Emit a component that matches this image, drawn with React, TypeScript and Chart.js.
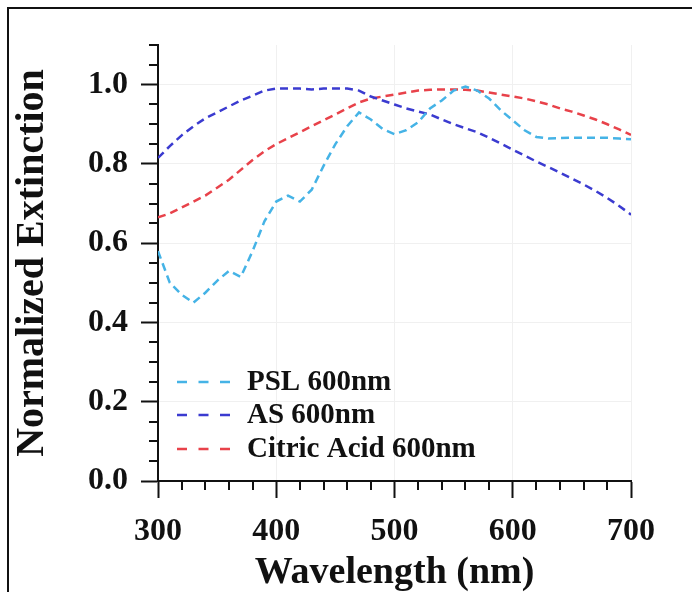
import React, { useEffect, useRef } from 'react';
import { Chart, registerables } from 'chart.js';

Chart.register(...registerables);

const wavelengths = [300, 310, 320, 330, 340, 350, 360, 370, 380, 390, 400, 410, 420, 430, 440, 450, 460, 470, 480, 490, 500, 510, 520, 530, 540, 550, 560, 570, 580, 590, 600, 610, 620, 630, 640, 650, 660, 670, 680, 690, 700];

const pslValues = [0.58, 0.5, 0.47, 0.45, 0.475, 0.505, 0.53, 0.515, 0.58, 0.655, 0.705, 0.72, 0.705, 0.735, 0.795, 0.85, 0.895, 0.93, 0.912, 0.888, 0.875, 0.885, 0.905, 0.94, 0.96, 0.985, 0.995, 0.985, 0.965, 0.935, 0.91, 0.885, 0.868, 0.864, 0.865, 0.866, 0.866, 0.866, 0.866, 0.864, 0.862];

const asValues = [0.815, 0.845, 0.872, 0.895, 0.915, 0.93, 0.945, 0.96, 0.972, 0.985, 0.99, 0.99, 0.99, 0.988, 0.99, 0.99, 0.99, 0.985, 0.97, 0.96, 0.95, 0.94, 0.932, 0.925, 0.912, 0.9, 0.89, 0.88, 0.866, 0.851, 0.836, 0.821, 0.806, 0.792, 0.778, 0.763, 0.748, 0.732, 0.714, 0.694, 0.672];

const citricValues = [0.665, 0.675, 0.69, 0.705, 0.72, 0.74, 0.76, 0.785, 0.81, 0.832, 0.85, 0.865, 0.88, 0.895, 0.91, 0.925, 0.94, 0.955, 0.965, 0.97, 0.975, 0.98, 0.985, 0.987, 0.988, 0.988, 0.987, 0.985, 0.98, 0.975, 0.97, 0.965, 0.958, 0.95, 0.94, 0.932, 0.922, 0.912, 0.9, 0.887, 0.873];

const seriesLabels = ['PSL 600nm', 'AS 600nm', 'Citric Acid 600nm'];
const seriesColors = ['#45b3e6', '#3b3bd0', '#e8424a'];

const xTickLabels = [300, 400, 500, 600, 700];
const yTickLabels = [0.0, 0.2, 0.4, 0.6, 0.8, 1.0];

const FONT = "'Liberation Serif', 'Times New Roman', serif";
const INK = '#111111';

const isXMajor = (v: number) => xTickLabels.some((t) => Math.abs(t - v) < 1e-6);
const isYMajor = (v: number) => yTickLabels.some((t) => Math.abs(t - v) < 1e-6);

const decorPlugin = {
  id: 'decor',
  beforeDraw(chart: any) {
    const { ctx, width, height } = chart;
    ctx.save();
    ctx.fillStyle = '#ffffff';
    ctx.fillRect(0, 0, width, height);
    ctx.strokeStyle = INK;
    ctx.lineWidth = 2;
    ctx.beginPath();
    ctx.moveTo(8, height);
    ctx.lineTo(8, 8);
    ctx.lineTo(width, 8);
    ctx.stroke();
    ctx.restore();
  },
  afterDraw(chart: any) {
    const { ctx, chartArea } = chart;
    const xs = chart.scales.x;
    const ys = chart.scales.y;
    ctx.save();
    ctx.strokeStyle = INK;
    ctx.lineWidth = 2;
    ctx.setLineDash([]);
    xs.ticks.forEach((t: any) => {
      if (!isXMajor(t.value)) {
        const px = Math.round(xs.getPixelForValue(t.value));
        ctx.beginPath();
        ctx.moveTo(px, chartArea.bottom);
        ctx.lineTo(px, chartArea.bottom + 9);
        ctx.stroke();
      }
    });
    ys.ticks.forEach((t: any) => {
      if (!isYMajor(t.value)) {
        const py = Math.round(ys.getPixelForValue(t.value));
        ctx.beginPath();
        ctx.moveTo(chartArea.left - 9, py);
        ctx.lineTo(chartArea.left, py);
        ctx.stroke();
      }
    });

    // legend inside the plot area, bottom-left
    const rowOffsets = [99, 66, 32];
    const lineX0 = chartArea.left + 19;
    const lineX1 = chartArea.left + 72;
    const textX = chartArea.left + 89;
    chart.data.datasets.forEach((ds: any, i: number) => {
      const y = chartArea.bottom - rowOffsets[i];
      ctx.strokeStyle = ds.borderColor;
      ctx.lineWidth = 2.5;
      ctx.setLineDash([10, 11.5]);
      ctx.beginPath();
      ctx.moveTo(lineX0, y);
      ctx.lineTo(lineX1, y);
      ctx.stroke();
      ctx.setLineDash([]);
      ctx.fillStyle = INK;
      ctx.font = `bold 29px ${FONT}`;
      ctx.textAlign = 'left';
      ctx.textBaseline = 'middle';
      ctx.fillText(ds.label, textX, y + 1);
    });
    ctx.restore();
  },
};

export default function App() {
  const canvasRef = useRef<HTMLCanvasElement | null>(null);

  useEffect(() => {
    const canvas = canvasRef.current;
    if (!canvas) return;
    const seriesValues = [pslValues, asValues, citricValues];
    const chart = new Chart(canvas, {
      type: 'line',
      data: {
        datasets: seriesValues.map((vals, i) => ({
          label: seriesLabels[i],
          data: wavelengths.map((w, j) => ({ x: w, y: vals[j] })),
          borderColor: seriesColors[i],
          backgroundColor: seriesColors[i],
          borderWidth: 2.5,
          borderDash: [8, 5],
          pointRadius: 0,
          tension: 0,
          fill: false,
        })),
      },
      options: {
        animation: false,
        responsive: false,
        devicePixelRatio: 1,
        layout: { padding: { left: 0, top: 45, right: 61, bottom: 0 } },
        plugins: {
          legend: { display: false },
          tooltip: { enabled: false },
        },
        scales: {
          x: {
            type: 'linear',
            min: 300,
            max: 700,
            afterFit: (scale: any) => {
              scale.height = 111;
            },
            ticks: {
              stepSize: 20,
              autoSkip: false,
              maxRotation: 0,
              padding: 15,
              color: INK,
              font: { family: FONT, size: 32, weight: 'bold' },
              callback: (v: any) => (isXMajor(Number(v)) ? String(Math.round(Number(v))) : ''),
            },
            grid: {
              drawOnChartArea: true,
              color: (c: any) => (c.tick && isXMajor(c.tick.value) ? '#f0f0f0' : 'rgba(0,0,0,0)'),
              tickLength: 17,
              tickWidth: 2,
              tickColor: (c: any) => (c.tick && isXMajor(c.tick.value) ? INK : 'rgba(0,0,0,0)'),
            },
            border: { display: true, color: INK, width: 2 },
            title: {
              display: true,
              text: 'Wavelength (nm)',
              color: INK,
              font: { family: FONT, size: 38, weight: 'bold' },
              padding: { top: 0, bottom: -4 },
            },
          },
          y: {
            type: 'linear',
            min: 0,
            max: 1.1,
            afterFit: (scale: any) => {
              scale.width = 158;
            },
            ticks: {
              stepSize: 0.05,
              autoSkip: false,
              padding: 13,
              color: INK,
              font: { family: FONT, size: 32, weight: 'bold' },
              callback: (v: any) => (isYMajor(Number(v)) ? Number(v).toFixed(1) : ''),
            },
            grid: {
              drawOnChartArea: true,
              color: (c: any) => (c.tick && isYMajor(c.tick.value) && c.tick.value > 0 ? '#f0f0f0' : 'rgba(0,0,0,0)'),
              tickLength: 17,
              tickWidth: 2,
              tickColor: (c: any) => (c.tick && isYMajor(c.tick.value) ? INK : 'rgba(0,0,0,0)'),
            },
            border: { display: true, color: INK, width: 2 },
            title: {
              display: true,
              text: 'Normalized Extinction',
              color: INK,
              font: { family: FONT, size: 40, weight: 'bold' },
              padding: { top: 9, bottom: 0 },
            },
          },
        },
      },
      plugins: [decorPlugin],
    });
    return () => {
      chart.destroy();
    };
  }, []);

  return (
    <div style={{ position: 'absolute', left: 0, top: 0, width: 692, height: 592 }}>
      <canvas ref={canvasRef} width={692} height={592} style={{ display: 'block', width: 692, height: 592 }} />
    </div>
  );
}
